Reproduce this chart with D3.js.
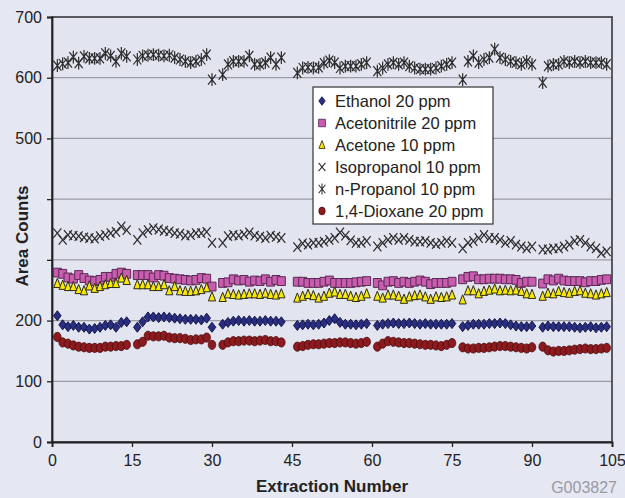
<!DOCTYPE html>
<html>
<head>
<meta charset="utf-8">
<script src="https://cdn.jsdelivr.net/npm/d3@7"></script>
<style>
  html, body { margin: 0; padding: 0; background: #e5e7f3; }
  svg { display: block; font-family: "Liberation Sans", Arial, sans-serif; }
</style>
</head>
<body>
<svg id="chart" width="625" height="498"></svg>
<script>
// Extraction numbers that have a point (gaps between batches)
const extraction = [
  1, 2, 3, 4, 5, 6, 7, 8, 9, 10, 11, 12, 13, 14,
  16, 17, 18, 19, 20, 21, 22, 23, 24, 25, 26, 27, 28, 29, 30,
  32, 33, 34, 35, 36, 37, 38, 39, 40, 41, 42, 43,
  46, 47, 48, 49, 50, 51, 52, 53, 54, 55, 56, 57, 58, 59,
  61, 62, 63, 64, 65, 66, 67, 68, 69, 70, 71, 72, 73, 74, 75,
  77, 78, 79, 80, 81, 82, 83, 84, 85, 86, 87, 88, 89, 90,
  92, 93, 94, 95, 96, 97, 98, 99, 100, 101, 102, 103, 104
];

const ethanol = [
  208, 193, 190, 192, 189, 189, 186, 187, 189, 192, 193, 189, 197, 198,
  189, 198, 206, 206, 205, 206, 205, 204, 203, 202, 202, 202, 201, 204, 189,
  194, 197, 199, 200, 199, 200, 199, 199, 200, 199, 199, 198,
  192, 193, 194, 193, 194, 196, 200, 203, 197, 194, 194, 193, 194, 195,
  192, 194, 195, 196, 195, 195, 196, 195, 194, 195, 194, 194, 194, 194, 195,
  190, 192, 194, 194, 194, 195, 195, 196, 195, 193, 191, 190, 190, 191,
  189, 191, 190, 190, 190, 190, 189, 188, 189, 190, 188, 189, 190
];

const acetonitrile = [
  279, 277, 271, 269, 275, 270, 266, 265, 267, 272, 272, 277, 279, 277,
  275, 275, 275, 271, 275, 274, 270, 269, 268, 267, 266, 267, 270, 269, 256,
  262, 263, 268, 266, 267, 264, 266, 265, 268, 264, 267, 265,
  264, 264, 262, 262, 262, 264, 266, 262, 262, 262, 262, 263, 264, 265,
  262, 258, 264, 265, 262, 264, 262, 264, 266, 264, 260, 262, 262, 262, 264,
  268, 272, 273, 268, 268, 269, 269, 269, 268, 268, 267, 262, 264, 264,
  261, 268, 266, 269, 266, 265, 265, 265, 263, 265, 265, 267, 268
];

const acetone = [
  261, 258, 256, 256, 251, 249, 257, 253, 256, 259, 261, 261, 270, 266,
  259, 259, 259, 256, 256, 259, 249, 256, 249, 248, 248, 249, 251, 254, 239,
  238, 244, 243, 242, 243, 244, 244, 243, 245, 243, 242, 244,
  237, 240, 243, 241, 237, 240, 245, 247, 243, 243, 240, 238, 240, 244,
  240, 237, 242, 242, 240, 235, 239, 241, 242, 239, 235, 239, 238, 239, 242,
  234, 249, 249, 244, 248, 250, 252, 249, 250, 249, 250, 248, 244, 243,
  240, 245, 244, 248, 246, 245, 248, 249, 245, 244, 242, 244, 246
];

const isopropanol = [
  344, 333, 341, 340, 339, 337, 336, 335, 339, 341, 344, 346, 355, 349,
  333, 344, 349, 352, 350, 348, 347, 344, 343, 340, 341, 344, 344, 346, 328,
  328, 339, 341, 340, 342, 345, 340, 338, 336, 340, 338, 336,
  321, 327, 325, 328, 328, 330, 333, 336, 345, 340, 332, 328, 328, 331,
  322, 328, 333, 336, 333, 336, 333, 330, 330, 331, 328, 326, 328, 331, 328,
  319, 328, 331, 336, 341, 336, 336, 333, 328, 331, 325, 322, 319, 322,
  317, 317, 319, 319, 322, 325, 331, 333, 328, 322, 319, 311, 314
];

const nPropanol = [
  620, 623, 625, 634, 624, 635, 632, 632, 632, 640, 636, 627, 640, 635,
  630, 636, 637, 638, 637, 636, 637, 633, 630, 627, 625, 627, 630, 638, 597,
  605, 622, 627, 627, 627, 636, 622, 622, 625, 633, 622, 633,
  608, 616, 617, 616, 617, 624, 628, 625, 616, 619, 619, 619, 622, 625,
  611, 616, 622, 625, 622, 625, 619, 616, 614, 614, 614, 616, 619, 622, 625,
  597, 627, 636, 625, 630, 633, 647, 633, 630, 627, 625, 622, 627, 622,
  592, 619, 622, 622, 627, 625, 627, 625, 627, 625, 625, 625, 622
];

const dioxane = [
  173, 164, 162, 159, 157, 156, 155, 155, 155, 157, 157, 158, 158, 160,
  161, 165, 175, 174, 174, 175, 172, 171, 171, 170, 168, 169, 169, 172, 160,
  160, 164, 166, 166, 167, 167, 166, 167, 168, 166, 166, 164,
  157, 158, 160, 161, 161, 162, 163, 163, 164, 164, 163, 162, 163, 165,
  157, 162, 166, 165, 164, 163, 163, 162, 161, 160, 160, 159, 158, 160, 163,
  156, 154, 154, 155, 155, 156, 157, 158, 158, 157, 156, 155, 154, 156,
  157, 151, 149, 150, 150, 151, 152, 153, 154, 153, 153, 154, 155
];

const seriesNames = [
  "Ethanol 20 ppm", "Acetonitrile 20 ppm", "Acetone 10 ppm",
  "Isopropanol 10 ppm", "n-Propanol 10 ppm", "1,4-Dioxane 20 ppm"
];

const xTicks = [0, 15, 30, 45, 60, 75, 90, 105];
const yTicks = [0, 100, 200, 300, 400, 500, 600, 700];
const yTickLabels = ["0", "100", "200", "", "", "500", "600", "700"];

// marker shapes
const markerPaths = {
  diamond: "M0,-5L3.8,0L0,5L-3.8,0Z",
  square: "M-4,-4.4L4,-4.4L4,4.4L-4,4.4Z",
  triangle: "M0,-5.2L3.6,4L-3.6,4Z",
  cross: "M-4,-4.8L4,4.8M4,-4.8L-4,4.8",
  star: "M-4,-5L4,5M4,-5L-4,5M0,-6.4L0,6.4",
  circle: null
};

const series = [
  { values: ethanol, shape: "diamond", fill: "#2a2e82", stroke: "#15174a" },
  { values: acetonitrile, shape: "square", fill: "#c95caf", stroke: "#5a2a55" },
  { values: acetone, shape: "triangle", fill: "#f7ea00", stroke: "#2e2a18" },
  { values: isopropanol, shape: "cross", fill: "none", stroke: "#2a2a2a" },
  { values: nPropanol, shape: "star", fill: "none", stroke: "#2a2a2a" },
  { values: dioxane, shape: "circle", fill: "#8c1a1e", stroke: "#4a0c0e" }
];

const margin = { top: 17, right: 13, bottom: 56, left: 52 },
      width = 625 - margin.left - margin.right,
      height = 498 - margin.top - margin.bottom;

const svg = d3.select("#chart");

svg.append("rect")
  .attr("width", 625).attr("height", 498)
  .attr("fill", "#e5e7f3");

const g = svg.append("g")
  .attr("transform", `translate(${margin.left},${margin.top})`);

const x = d3.scaleLinear().domain([0, 105]).range([0, width]);
const y = d3.scaleLinear().domain([0, 700]).range([height, 0]);

// plot area
g.append("rect")
  .attr("width", width).attr("height", height)
  .attr("fill", "#e2e4f0");

// gridlines
g.selectAll(".grid")
  .data(yTicks.filter(d => d > 0 && d < 700))
  .enter().append("line")
  .attr("x1", 0).attr("x2", width)
  .attr("y1", d => y(d)).attr("y2", d => y(d))
  .attr("stroke", "#9b9ca6")
  .attr("stroke-width", 1.3);

// frame
g.append("rect")
  .attr("width", width).attr("height", height)
  .attr("fill", "none")
  .attr("stroke", "#4a4a50")
  .attr("stroke-width", 1.8);

// axes
const yAxis = g.append("g")
  .call(d3.axisLeft(y).tickValues(yTicks).tickSize(5).tickPadding(5)
    .tickFormat((d, i) => yTickLabels[i]));

const xAxis = g.append("g")
  .attr("transform", `translate(0,${height})`)
  .call(d3.axisBottom(x).tickValues(xTicks).tickSize(5).tickPadding(8)
    .tickFormat(d3.format("d")));

[yAxis, xAxis].forEach(a => {
  a.select(".domain").attr("stroke", "#222").attr("stroke-width", 1.8);
  a.selectAll(".tick line").attr("stroke", "#222").attr("stroke-width", 1.3);
  a.selectAll(".tick text")
    .attr("fill", "#222")
    .style("font-size", "16px")
    .style("font-family", "'Liberation Sans', Arial, sans-serif");
});

// markers
function drawMarker(sel, s) {
  if (s.shape === "circle") {
    sel.append("ellipse")
      .attr("rx", 3.8).attr("ry", 4.6)
      .attr("fill", s.fill).attr("stroke", s.stroke).attr("stroke-width", 0.8);
  } else {
    sel.append("path")
      .attr("d", markerPaths[s.shape])
      .attr("fill", s.fill)
      .attr("stroke", s.stroke)
      .attr("stroke-width", s.fill === "none" ? 1.2 : 1);
  }
}

series.forEach(s => {
  const pts = g.append("g").selectAll("g")
    .data(extraction.map((e, i) => ({ x: e, v: s.values[i] })))
    .enter().append("g")
    .attr("transform", d => `translate(${x(d.x)},${y(d.v)})`);
  pts.each(function () { drawMarker(d3.select(this), s); });
});

// legend
const legend = svg.append("g").attr("transform", "translate(313,87)");
legend.append("rect")
  .attr("width", 180).attr("height", 137)
  .attr("fill", "#ffffff")
  .attr("stroke", "#333").attr("stroke-width", 1.2);

seriesNames.forEach((name, i) => {
  const row = legend.append("g").attr("transform", `translate(0,${14 + i * 22})`);
  const m = row.append("g").attr("transform", "translate(9,0) scale(0.85)");
  drawMarker(m, series[i]);
  row.append("text")
    .attr("x", 22).attr("y", 6)
    .attr("fill", "#222")
    .style("font-size", "16.5px")
    .text(name);
});

// axis titles
svg.append("text")
  .attr("transform", "translate(28,236) rotate(-90)")
  .attr("text-anchor", "middle")
  .attr("fill", "#222")
  .style("font-size", "17px")
  .style("font-weight", "bold")
  .text("Area Counts");

svg.append("text")
  .attr("x", margin.left + width / 2)
  .attr("y", 492)
  .attr("text-anchor", "middle")
  .attr("fill", "#222")
  .style("font-size", "17px")
  .style("font-weight", "bold")
  .text("Extraction Number");

svg.append("text")
  .attr("x", 617)
  .attr("y", 493)
  .attr("text-anchor", "end")
  .attr("fill", "#9a9aa2")
  .style("font-size", "16px")
  .text("G003827");
</script>
</body>
</html>
